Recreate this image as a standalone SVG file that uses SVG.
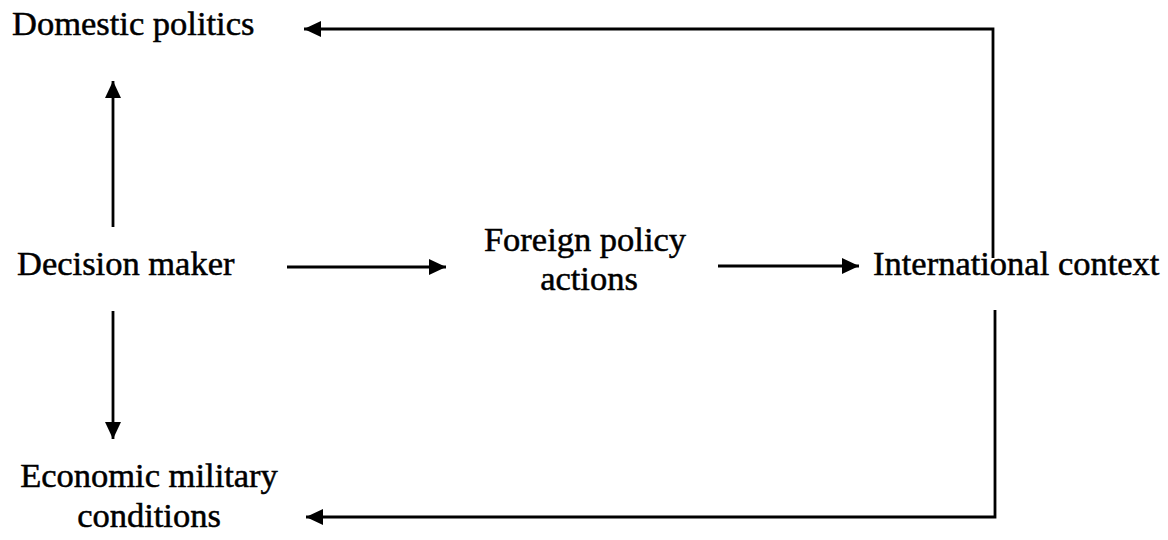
<svg xmlns="http://www.w3.org/2000/svg" width="1168" height="540" viewBox="0 0 1168 540">
<style>
text{font-family:"Liberation Serif","Times New Roman",serif;font-size:34.5px;fill:#000;stroke:#000;stroke-width:0.5}
.c{fill:none;stroke:#000;stroke-width:2.8}
</style>
<defs>
<marker id="ah" markerUnits="userSpaceOnUse" markerWidth="20" markerHeight="20" viewBox="0 0 20 20" refX="18" refY="10" orient="auto">
<path d="M1,2 L18,10 L1,18 Z" fill="#000"/>
</marker>
</defs>
<g id="domestic"><text x="12" y="35">Domestic politics</text></g>
<g id="decision"><text x="17" y="275">Decision maker</text></g>
<g id="foreign"><text x="585" y="251" text-anchor="middle">Foreign policy</text><text x="589" y="290" text-anchor="middle">actions</text></g>
<g id="international"><text x="873" y="275">International context</text></g>
<g id="economic"><text x="149" y="487" text-anchor="middle">Economic military</text><text x="149" y="527" text-anchor="middle">conditions</text></g>
<g id="connectors">
<path class="c" d="M113,227 L113,81" marker-end="url(#ah)"/>
<path class="c" d="M113,311 L113,439" marker-end="url(#ah)"/>
<path class="c" d="M287,267 L446,267" marker-end="url(#ah)"/>
<path class="c" d="M718,266 L859,266" marker-end="url(#ah)"/>
<path class="c" d="M993,258 L993,29 L304,29" marker-end="url(#ah)"/>
<path class="c" d="M995,310 L995,517 L306,517" marker-end="url(#ah)"/>
</g>
</svg>
